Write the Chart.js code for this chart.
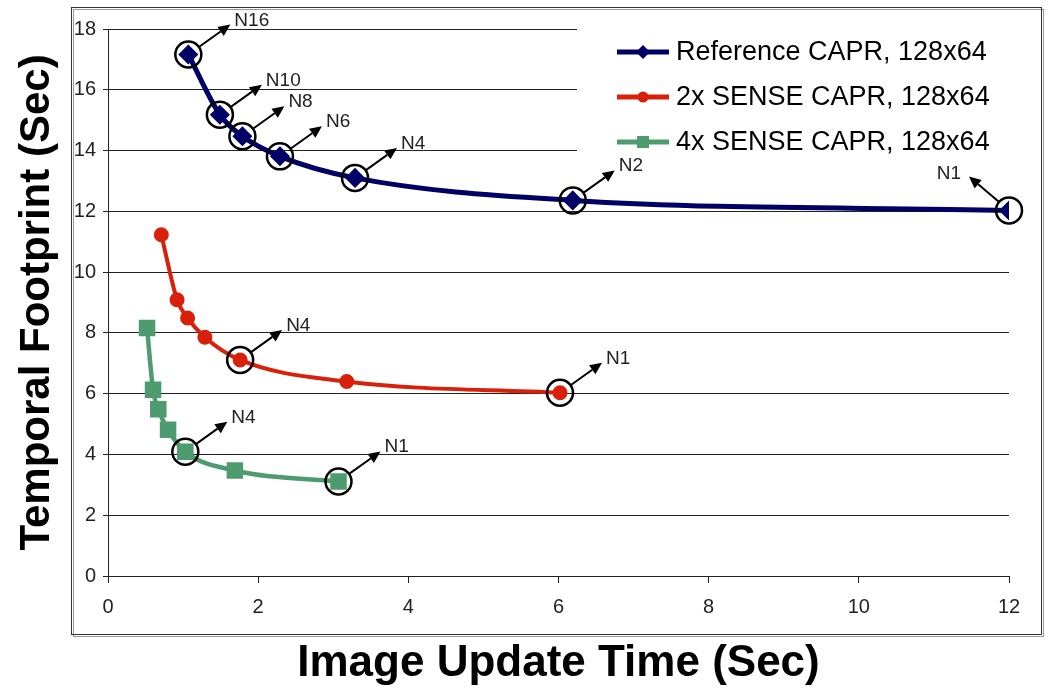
<!DOCTYPE html>
<html>
<head>
<meta charset="utf-8">
<script src="https://cdn.jsdelivr.net/npm/chart.js@4.4.1/dist/chart.umd.min.js"></script>
<style>
  html, body { margin: 0; padding: 0; background: #fff; }
  canvas { display: block; }
</style>
</head>
<body>
<canvas id="chart" width="1050" height="699"></canvas>
<script>
// values
const seriesNames = ['Reference CAPR, 128x64', '2x SENSE CAPR, 128x64', '4x SENSE CAPR, 128x64'];

const refTime = [1.07, 1.49, 1.79, 2.29, 3.29, 6.19, 12.0];
const refFootprint = [17.16, 15.18, 14.47, 13.81, 13.10, 12.36, 12.03];
const refMarks = ['N16', 'N10', 'N8', 'N6', 'N4', 'N2', 'N1'];

const sense2Time = [0.71, 0.92, 1.06, 1.29, 1.76, 3.18, 6.02];
const sense2Footprint = [11.23, 9.09, 8.49, 7.86, 7.11, 6.40, 6.03];
const sense2Marks = [null, null, null, null, 'N4', null, 'N1'];

const sense4Time = [0.52, 0.60, 0.67, 0.80, 1.03, 1.69, 3.07];
const sense4Footprint = [8.16, 6.13, 5.49, 4.81, 4.09, 3.47, 3.11];
const sense4Marks = [null, null, null, null, 'N4', null, 'N1'];

const xTicks = [0, 2, 4, 6, 8, 10, 12];
const yTicks = [0, 2, 4, 6, 8, 10, 12, 14, 16, 18];

const FONT = "'Liberation Sans', Arial, sans-serif";

function toPoints(xs, ys) {
    return xs.map((x, i) => ({ x: x, y: ys[i] }));
}

// outer frame with a small shadow
const framePlugin = {
    id: 'frame',
    beforeDraw(chart) {
        const ctx = chart.ctx;
        ctx.save();
        ctx.fillStyle = '#fff';
        ctx.fillRect(0, 0, chart.width, chart.height);
        ctx.strokeStyle = '#9a9a9a';
        ctx.lineWidth = 1;
        ctx.strokeRect(73.5, 9.5, 970, 627);
        ctx.strokeStyle = '#333';
        ctx.strokeRect(71.5, 7.5, 970, 627);
        ctx.restore();
    }
};

function drawMarker(ctx, style, x, y, color) {
    ctx.fillStyle = color;
    ctx.beginPath();
    if (style === 'rectRot') {
        ctx.moveTo(x, y - 7); ctx.lineTo(x + 7, y); ctx.lineTo(x, y + 7); ctx.lineTo(x - 7, y);
    } else if (style === 'rect') {
        ctx.rect(x - 6, y - 6, 12, 12);
    } else {
        ctx.arc(x, y, 5.5, 0, Math.PI * 2);
    }
    ctx.closePath();
    ctx.fill();
}

function drawLegend(chart) {
    const ctx = chart.ctx;
    ctx.save();
    ctx.fillStyle = '#fff';
    ctx.fillRect(577, 20, 436, 138);
    ctx.font = '27px ' + FONT;
    ctx.textBaseline = 'middle';
    chart.data.datasets.forEach((ds, i) => {
        const y = 52 + i * 45;
        ctx.strokeStyle = ds.borderColor;
        ctx.lineWidth = 5;
        ctx.beginPath();
        ctx.moveTo(617, y);
        ctx.lineTo(669, y);
        ctx.stroke();
        drawMarker(ctx, ds.pointStyle, 643, y, ds.borderColor);
        ctx.fillStyle = '#000';
        ctx.fillText(ds.label, 676, y + 1);
    });
    ctx.restore();
}

function drawCallout(ctx, cx, cy, text, flip) {
    const r = 13;
    const dx = flip ? -40 : 42;
    const dy = flip ? -34 : -30;
    const len = Math.hypot(dx, dy);
    const ux = dx / len, uy = dy / len;
    const tx = cx + dx, ty = cy + dy;
    const bx = tx - ux * 12, by = ty - uy * 12;

    ctx.strokeStyle = '#000';
    ctx.lineWidth = 2.5;
    ctx.beginPath();
    ctx.arc(cx, cy, r, 0, Math.PI * 2);
    ctx.stroke();

    ctx.lineWidth = 2;
    ctx.beginPath();
    ctx.moveTo(cx + ux * r, cy + uy * r);
    ctx.lineTo(bx, by);
    ctx.stroke();

    ctx.fillStyle = '#000';
    ctx.beginPath();
    ctx.moveTo(tx, ty);
    ctx.lineTo(bx - uy * 5.5, by + ux * 5.5);
    ctx.lineTo(bx + uy * 5.5, by - ux * 5.5);
    ctx.closePath();
    ctx.fill();

    ctx.fillStyle = '#222';
    ctx.font = '19px ' + FONT;
    ctx.textBaseline = 'alphabetic';
    if (flip) {
        ctx.textAlign = 'right';
        ctx.fillText(text, tx - 8, ty + 3);
    } else {
        ctx.textAlign = 'left';
        ctx.fillText(text, tx + 4, ty + 1);
    }
}

const calloutPlugin = {
    id: 'callouts',
    afterDatasetsDraw(chart) {
        const ctx = chart.ctx;
        drawLegend(chart);
        ctx.save();
        chart.data.datasets.forEach((ds, di) => {
            const meta = chart.getDatasetMeta(di);
            ds.marks.forEach((m, i) => {
                if (!m) return;
                const pt = meta.data[i];
                const flip = pt.x > chart.chartArea.right - 60;
                drawCallout(ctx, pt.x, pt.y, m, flip);
            });
        });
        ctx.restore();
    }
};

const ctx = document.getElementById('chart');

new Chart(ctx, {
    type: 'line',
    data: {
        datasets: [
            {
                label: seriesNames[0],
                data: toPoints(refTime, refFootprint),
                marks: refMarks,
                borderColor: '#000066',
                backgroundColor: '#000066',
                borderWidth: 5,
                pointStyle: 'rectRot',
                pointRadius: 6.5,
                cubicInterpolationMode: 'monotone'
            },
            {
                label: seriesNames[1],
                data: toPoints(sense2Time, sense2Footprint),
                marks: sense2Marks,
                borderColor: '#d9200a',
                backgroundColor: '#d9200a',
                borderWidth: 4,
                pointStyle: 'circle',
                pointRadius: 5.5,
                cubicInterpolationMode: 'monotone'
            },
            {
                label: seriesNames[2],
                data: toPoints(sense4Time, sense4Footprint),
                marks: sense4Marks,
                borderColor: '#4e9b70',
                backgroundColor: '#4e9b70',
                borderWidth: 4.5,
                pointStyle: 'rect',
                pointRadius: 8.5,
                cubicInterpolationMode: 'monotone'
            }
        ]
    },
    options: {
        responsive: false,
        animation: false,
        layout: { padding: { top: 29, right: 41, bottom: 0, left: 0 } },
        plugins: {
            legend: { display: false },
            tooltip: { enabled: false }
        },
        scales: {
            x: {
                type: 'linear',
                min: xTicks[0],
                max: xTicks[xTicks.length - 1],
                afterFit(scale) { scale.height = 123; },
                ticks: {
                    stepSize: xTicks[1] - xTicks[0],
                    color: '#222',
                    font: { family: FONT, size: 20 },
                    padding: 12,
                    maxRotation: 0
                },
                grid: { drawOnChartArea: false, color: '#222', tickLength: 7 },
                border: { color: '#222', width: 1 },
                title: {
                    display: true,
                    text: 'Image Update Time (Sec)',
                    color: '#000',
                    font: { family: FONT, size: 44, weight: 'bold' },
                    padding: { top: 0, bottom: 9 }
                }
            },
            y: {
                min: yTicks[0],
                max: yTicks[yTicks.length - 1],
                afterFit(scale) { scale.width = 108; },
                ticks: {
                    stepSize: yTicks[1] - yTicks[0],
                    color: '#222',
                    font: { family: FONT, size: 20 },
                    padding: 7
                },
                grid: { color: '#222', tickLength: 5 },
                border: { color: '#222', width: 1 },
                title: {
                    display: true,
                    text: 'Temporal Footprint (Sec)',
                    color: '#000',
                    font: { family: FONT, size: 42, weight: 'bold' },
                    padding: { top: 12, bottom: 0 }
                }
            }
        }
    },
    plugins: [framePlugin, calloutPlugin]
});
</script>
</body>
</html>
